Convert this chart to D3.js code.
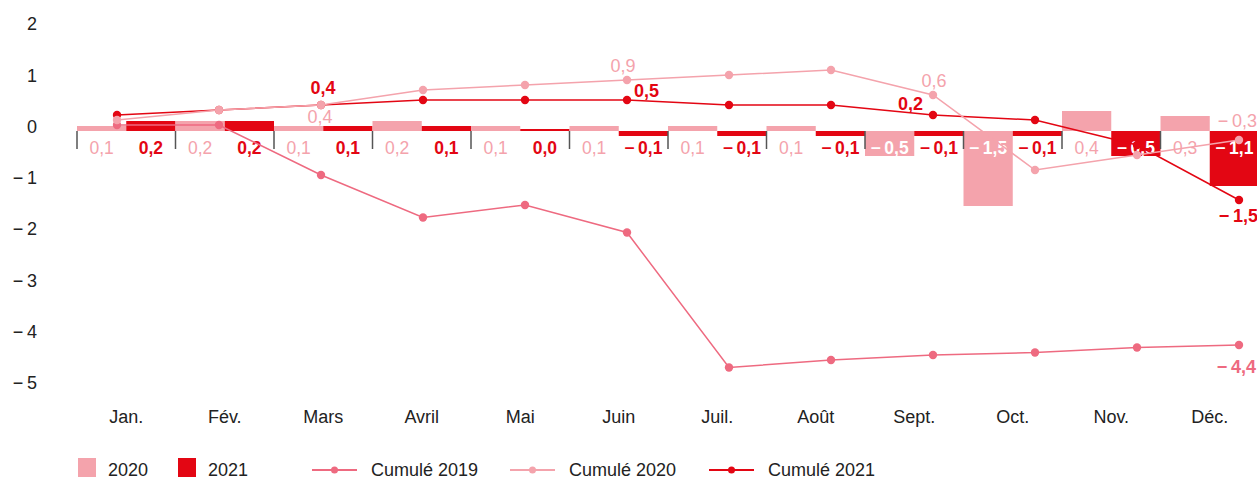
<!DOCTYPE html>
<html>
<head>
<meta charset="utf-8">
<script src="https://cdn.jsdelivr.net/npm/d3@7"></script>
<style>
  body { margin: 0; background: #fff; }
  svg { display: block; font-family: "Liberation Sans", Arial, sans-serif; }
</style>
</head>
<body>
<svg id="chart" width="1257" height="479"></svg>
<script>
// data
const months = ['Jan.', 'Fév.', 'Mars', 'Avril', 'Mai', 'Juin', 'Juil.', 'Août', 'Sept.', 'Oct.', 'Nov.', 'Déc.'];
const bars2020 = [0.1, 0.2, 0.1, 0.2, 0.1, 0.1, 0.1, 0.1, -0.5, -1.5, 0.4, 0.3];
const bars2021 = [0.2, 0.2, 0.1, 0.1, 0.0, -0.1, -0.1, -0.1, -0.1, -0.1, -0.5, -1.1];
const cumul2019 = [0.0, 0.0, -1.0, -1.85, -1.6, -2.15, -4.85, -4.7, -4.6, -4.55, -4.45, -4.4];
const cumul2020 = [0.1, 0.3, 0.4, 0.7, 0.8, 0.9, 1.0, 1.1, 0.6, -0.9, -0.6, -0.3];
const cumul2021 = [0.2, 0.3, 0.4, 0.5, 0.5, 0.5, 0.4, 0.4, 0.2, 0.1, -0.4, -1.5];
const yTicks = [2, 1, 0, -1, -2, -3, -4, -5];

const pink = '#f4a3ac';
const red = '#e30613';
const rose = '#ee6a80';
const textColor = '#222';

// which cumulated points get a value label, and where it sits
const lineLabels = [
	{ series: '2021', i: 2, anchor: 'middle', dx: 2, dy: -11 },
	{ series: '2021', i: 5, anchor: 'start', dx: 7, dy: -3 },
	{ series: '2021', i: 8, anchor: 'end', dx: -10, dy: -5 },
	{ series: '2021', i: 11, anchor: 'end', dx: 19, dy: 22 },
	{ series: '2020', i: 2, anchor: 'middle', dx: -1, dy: 18 },
	{ series: '2020', i: 5, anchor: 'middle', dx: -4, dy: -8 },
	{ series: '2020', i: 8, anchor: 'middle', dx: 1, dy: -8 },
	{ series: '2020', i: 11, anchor: 'end', dx: 18, dy: -13 },
	{ series: '2019', i: 11, anchor: 'end', dx: 17, dy: 28 },
];

const fmt = (v) => {
	const s = d3.format('.1f')(Math.abs(v)).replace('.', ',');
	return v < -0.001 ? '\u2212\u2009' + s : s;
};

const svg = d3.select('#chart');

// scales
const xBand = d3.scaleBand().domain(months).range([77, 1259]).padding(0);
const xSub = d3.scaleBand().domain(['2020', '2021']).range([0, xBand.bandwidth()]);
const xPoint = d3.scalePoint().domain(months).range([117, 1239]);
const yAxis = d3.scaleLinear().domain([-5, 2]).range([383, 24]);
const yBar = d3.scaleLinear().domain([-5, 2]).range([381, 31]);
const yLine = d3.scaleLinear().domain([-5, 2]).range([375, 25]);

// y axis labels
const gy = svg.append('g')
	.attr('transform', 'translate(37,0)')
	.call(d3.axisLeft(yAxis).tickValues(yTicks).tickSize(0).tickPadding(0)
		.tickFormat((d) => (d < 0 ? '\u2212\u2009' + Math.abs(d) : d)));
gy.select('.domain').remove();
gy.selectAll('text')
	.attr('font-size', 18)
	.attr('font-family', null)
	.attr('fill', textColor);

// month labels
const gx = svg.append('g')
	.attr('transform', 'translate(0,407)')
	.call(d3.axisBottom(xBand).tickSize(0).tickPadding(3));
gx.select('.domain').remove();
gx.selectAll('text')
	.attr('font-size', 18)
	.attr('font-family', null)
	.attr('fill', textColor);

// bars
const barData = months.flatMap((m, i) => [
	{ m, year: '2020', v: bars2020[i] },
	{ m, year: '2021', v: bars2021[i] },
]);

svg.append('g')
	.selectAll('rect')
	.data(barData)
	.join('rect')
	.attr('x', (d) => xBand(d.m) + xSub(d.year))
	.attr('width', xSub.bandwidth())
	.attr('y', (d) => Math.min(yBar(d.v), yBar(0) - (d.v === 0 ? 2 : 0)))
	.attr('height', (d) => Math.max(Math.abs(yBar(d.v) - yBar(0)), 2))
	.attr('fill', (d) => (d.year === '2020' ? pink : red));

// small ticks between months
svg.append('g')
	.selectAll('line')
	.data(months)
	.join('line')
	.attr('x1', (d) => xBand(d))
	.attr('x2', (d) => xBand(d))
	.attr('y1', yBar(0))
	.attr('y2', yBar(0) + 18)
	.attr('stroke', '#555')
	.attr('stroke-width', 1.5);

// bar value labels, white when they sit inside a long bar
svg.append('g')
	.selectAll('text')
	.data(barData)
	.join('text')
	.attr('x', (d) => xBand(d.m) + xSub(d.year) + xSub.bandwidth() / 2)
	.attr('y', yBar(0) + 23)
	.attr('text-anchor', 'middle')
	.attr('font-size', 17.5)
	.attr('font-weight', (d) => (d.year === '2021' || d.v <= -0.5 ? 'bold' : 'normal'))
	.attr('fill', (d) => (d.v <= -0.5 ? '#fff' : d.year === '2020' ? pink : red))
	.text((d) => fmt(d.v));

// cumulated lines
const series = [
	{ key: '2019', values: cumul2019, color: rose },
	{ key: '2021', values: cumul2021, color: red },
	{ key: '2020', values: cumul2020, color: pink },
];

const line = d3.line()
	.x((d, i) => xPoint(months[i]))
	.y((d) => yLine(d));

const gs = svg.append('g')
	.selectAll('g')
	.data(series)
	.join('g');

gs.append('path')
	.attr('d', (d) => line(d.values))
	.attr('fill', 'none')
	.attr('stroke', (d) => d.color)
	.attr('stroke-width', 1.5);

gs.selectAll('circle')
	.data((d) => d.values.map((v, i) => ({ v, i, color: d.color })))
	.join('circle')
	.attr('cx', (d) => xPoint(months[d.i]))
	.attr('cy', (d) => yLine(d.v))
	.attr('r', 4.2)
	.attr('fill', (d) => d.color);

// labels on the cumulated lines
const byKey = Object.fromEntries(series.map((s) => [s.key, s]));
svg.append('g')
	.selectAll('text')
	.data(lineLabels)
	.join('text')
	.attr('x', (d) => xPoint(months[d.i]) + d.dx)
	.attr('y', (d) => yLine(byKey[d.series].values[d.i]) + d.dy)
	.attr('text-anchor', (d) => d.anchor)
	.attr('font-size', 18)
	.attr('font-weight', (d) => (d.series === '2020' ? 'normal' : 'bold'))
	.attr('fill', (d) => byKey[d.series].color)
	.text((d) => fmt(byKey[d.series].values[d.i]));

// legend
const legendBars = [
	{ label: '2020', color: pink, x: 78 },
	{ label: '2021', color: red, x: 178 },
];
const legendLines = [
	{ label: 'Cumulé 2019', color: rose, x: 312 },
	{ label: 'Cumulé 2020', color: pink, x: 510 },
	{ label: 'Cumulé 2021', color: red, x: 709 },
];

const lb = svg.append('g').selectAll('g').data(legendBars).join('g')
	.attr('transform', (d) => `translate(${d.x},458)`);
lb.append('rect').attr('width', 18).attr('height', 19).attr('fill', (d) => d.color);
lb.append('text').attr('x', 30).attr('y', 18).attr('font-size', 18)
	.attr('fill', textColor).text((d) => d.label);

const ll = svg.append('g').selectAll('g').data(legendLines).join('g')
	.attr('transform', (d) => `translate(${d.x},470)`);
ll.append('line').attr('x1', 0).attr('x2', 45)
	.attr('stroke', (d) => d.color).attr('stroke-width', 2);
ll.append('circle').attr('cx', 22.5).attr('r', 3.5).attr('fill', (d) => d.color);
ll.append('text').attr('x', 59).attr('y', 6).attr('font-size', 18)
	.attr('fill', textColor).text((d) => d.label);
</script>
</body>
</html>
